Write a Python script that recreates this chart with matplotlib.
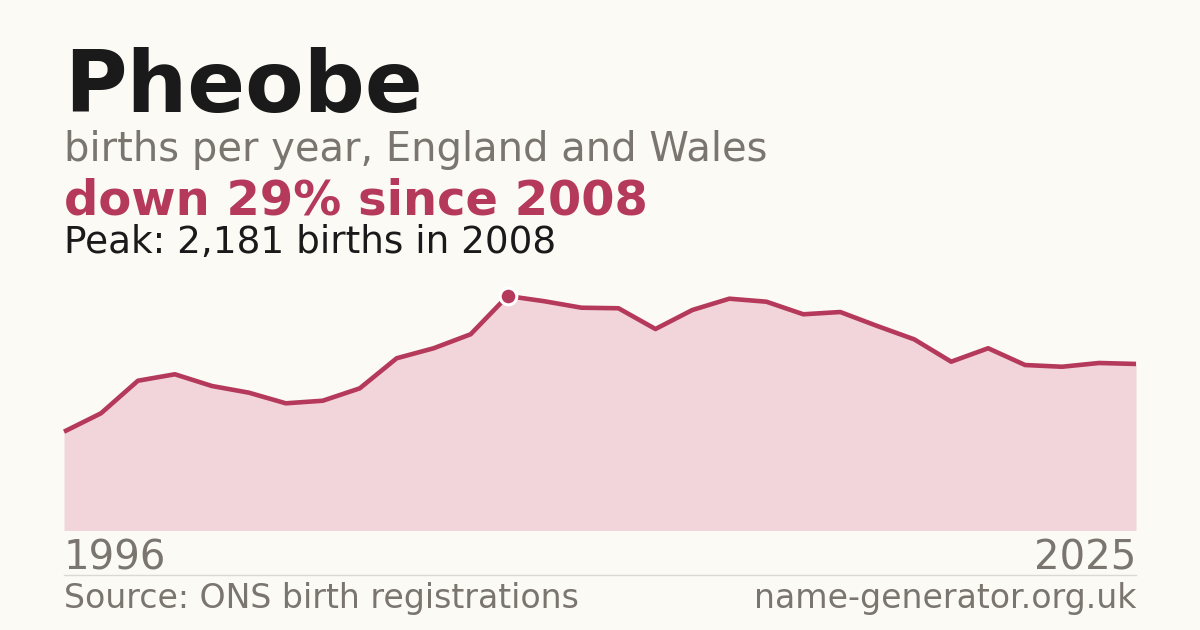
import matplotlib
matplotlib.use("Agg")
import matplotlib.pyplot as plt

# ---- data ----
years = list(range(1996, 2026))
births = [919, 1090, 1393, 1453, 1344, 1282, 1183, 1207, 1322, 1602,
          1695, 1825, 2181, 2132, 2072, 2067, 1874, 2051, 2156, 2128,
          2011, 2032, 1902, 1778, 1570, 1695, 1539, 1523, 1558, 1549]
peak_year = 2008
peak_value = 2181

title = "Pheobe"
subtitle = "births per year, England and Wales"
headline = "down 29% since 2008"
peak_text = "Peak: 2,181 births in 2008"
source_text = "Source: ONS birth registrations"
site_text = "name-generator.org.uk"

# ---- style ----
BG = "#fbfaf5"
RED = "#b5395a"
FILL = "#f2d5da"
GRAY = "#7a756e"
DARK = "#1a1a1a"
W, H = 1200, 630

fig = plt.figure(figsize=(W / 100, H / 100), dpi=100, facecolor=BG)

def fy(px):
    return 1 - px / H

def fx(px):
    return px / W

ax_left, ax_right = 64, 1136
ax_bottom, ax_top = 530.5, 270
ax = fig.add_axes([fx(ax_left), fy(ax_bottom), fx(ax_right - ax_left),
                   (ax_bottom - ax_top) / H])
ax.set_facecolor("none")
ax.set_xlim(years[0], years[-1])
ymax = peak_value * (ax_bottom - ax_top) / (ax_bottom - 296)
ax.set_ylim(0, ymax)
ax.fill_between(years, births, 0, color=FILL, lw=0, zorder=1)
ax.plot(years, births, color=RED, lw=3.3, solid_joinstyle="round",
        solid_capstyle="butt", zorder=2, clip_on=False)
ax.plot([peak_year], [peak_value], "o", ms=12, mfc=RED, mec="white",
        mew=2.2, zorder=3, clip_on=False)
for s in ax.spines.values():
    s.set_visible(False)
ax.set_xticks([])
ax.set_yticks([])

fam = "DejaVu Sans"
fig.text(fx(64), fy(111.7), title, fontsize=61.5, fontweight="bold",
         color=DARK, va="baseline", ha="left", family=fam)
fig.text(fx(64), fy(160.5), subtitle, fontsize=28.8, color=GRAY,
         va="baseline", ha="left", family=fam)
fig.text(fx(64), fy(214.3), headline, fontsize=34.6, fontweight="bold",
         color=RED, va="baseline", ha="left", family=fam)
fig.text(fx(64), fy(253.3), peak_text, fontsize=26.9, color=DARK,
         va="baseline", ha="left", family=fam)

fig.text(fx(64), fy(570), str(years[0]), fontsize=28.9, color=GRAY,
         va="baseline", ha="left", family=fam)
fig.text(fx(1136), fy(570), str(years[-1]), fontsize=28.9, color=GRAY,
         va="baseline", ha="right", family=fam)

fig.add_artist(plt.Line2D([fx(64), fx(1136)], [fy(574.5), fy(574.5)],
                          color="#dcd9d2", lw=1.0))

fig.text(fx(64), fy(608.3), source_text, fontsize=23.9, color=GRAY,
         va="baseline", ha="left", family=fam)
fig.text(fx(1136), fy(608.3), site_text, fontsize=23.9, color=GRAY,
         va="baseline", ha="right", family=fam)

fig.savefig("out.png", dpi=100, facecolor=BG)
